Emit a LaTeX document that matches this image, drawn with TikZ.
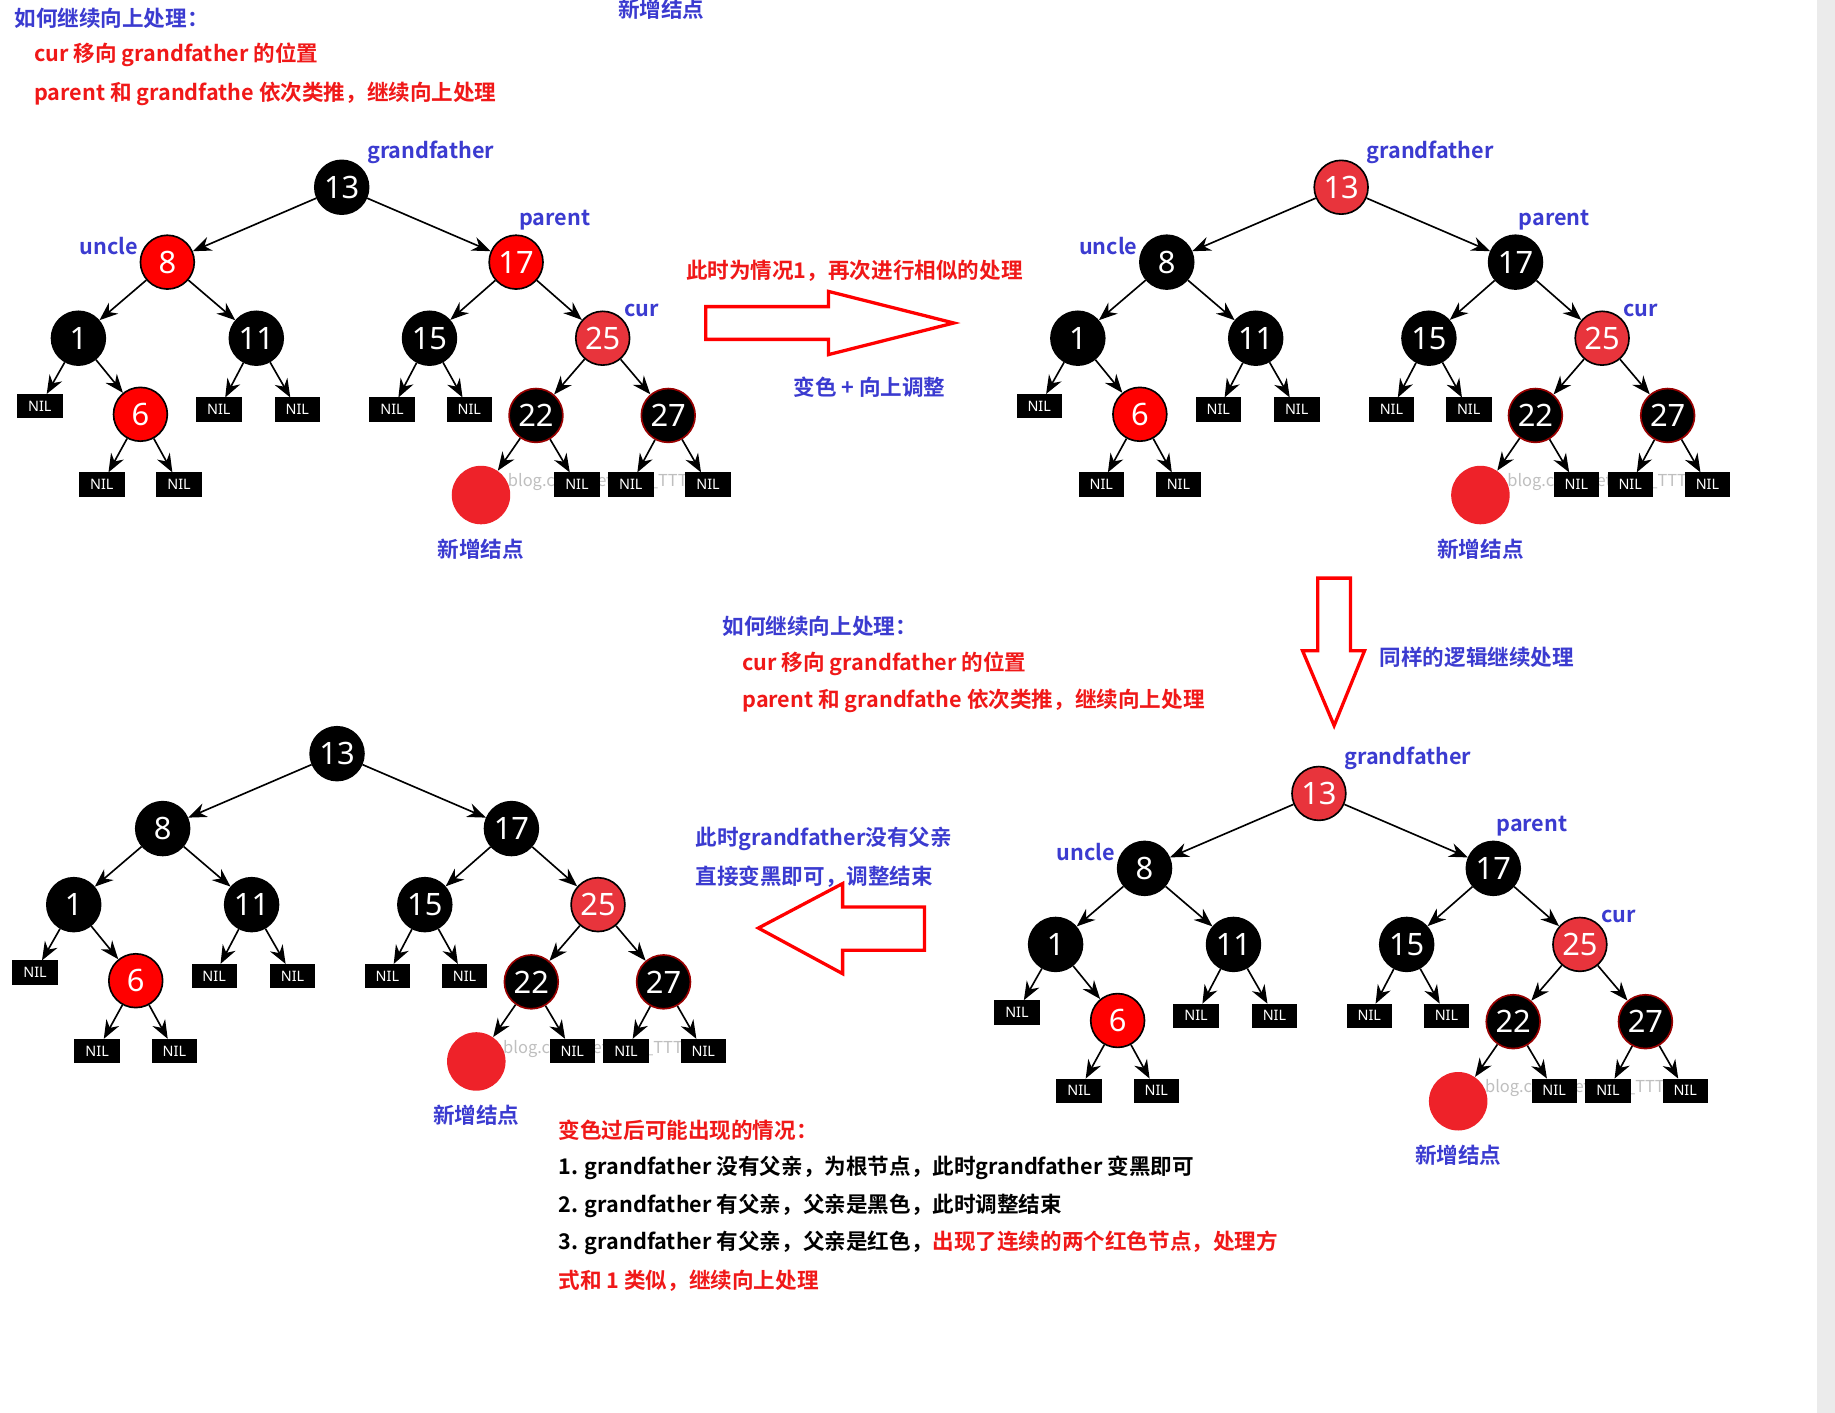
\documentclass[tikz,border=0pt]{standalone}
\usepackage{fontspec}
\setmainfont{Noto Sans CJK SC}[BoldFont={* Bold}]
\newfontfamily\numf{Noto Sans}
\usetikzlibrary{arrows.meta}
\definecolor{rA}{HTML}{FF0000}
\definecolor{rB}{HTML}{E8343C}
\definecolor{rN}{HTML}{EE2229}
\definecolor{bl}{HTML}{3B3BD0}
\definecolor{rt}{HTML}{F01818}
\tikzset{
 bn/.style={circle,draw=black,line width=0.8pt,fill=black,text=white,minimum size=0.92cm,inner sep=0pt,font=\numf\fontsize{15}{15}\selectfont},
 rn/.style={bn,fill=rA},
 rn2/.style={bn,fill=rB},
 nil/.style={draw=black,fill=black,text=white,minimum width=0.76cm,minimum height=0.4cm,inner sep=0pt,font=\numf\fontsize{7}{7}\selectfont},
 newn/.style={circle,fill=rN,minimum size=1cm,inner sep=0pt},
 arr/.style={-{Stealth[length=9pt,width=7pt]},line width=0.8pt},
 lab/.style={text=bl,font=\bfseries\fontsize{10.5}{12}\selectfont,inner sep=0pt},
 rtx/.style={text=rt,font=\bfseries\fontsize{10.5}{12}\selectfont,inner sep=0pt,anchor=west},
 btx/.style={text=bl,font=\bfseries\fontsize{10.5}{12}\selectfont,inner sep=0pt,anchor=west},
 ktx/.style={text=black,font=\bfseries\fontsize{10.5}{12}\selectfont,inner sep=0pt,anchor=west},
 wm/.style={text=black!25,font=\fontsize{8}{8}\selectfont\rmfamily,inner sep=0pt},
 hollow/.style={draw=rA,line width=1.6pt,fill=white},
}
\newcommand\rbt[7]{%
\begin{scope}[shift={(#2,#3)}]
\node[wm] (#1w) at (223,252) {blog.csdn.net/Sun\_TTTT};
\node[#4] (#1a) at (0,0) {13};
\node[#5] (#1b) at (-149,64) {8};
\node[#6] (#1c) at (149,64) {17};
\node[bn] (#1d) at (-225,129) {1};
\node[bn] (#1e) at (-73,129) {11};
\node[bn] (#1f) at (75,129) {15};
\node[#7] (#1g) at (223,129) {25};
\node[nil] (#1h) at (-258,187) {NIL};
\node[rn] (#1i) at (-172,194) {6};
\node[nil] (#1j) at (-105,190) {NIL};
\node[nil] (#1k) at (-38,190) {NIL};
\node[nil] (#1l) at (43,190) {NIL};
\node[nil] (#1m) at (109,190) {NIL};
\node[bn,draw=rA!60!black] (#1n) at (166,195) {22};
\node[bn,draw=rA!60!black] (#1o) at (279,195) {27};
\node[nil] (#1p) at (-205,254) {NIL};
\node[nil] (#1q) at (-139,254) {NIL};
\node[newn] (#1r) at (119,263) {};
\node[nil] (#1s) at (201,254) {NIL};
\node[nil] (#1t) at (247,254) {NIL};
\node[nil] (#1u) at (313,254) {NIL};
\node[lab] (#1v) at (119,309) {新增结点};
\draw[arr] (#1a)--(#1b); \draw[arr] (#1a)--(#1c);
\draw[arr] (#1b)--(#1d); \draw[arr] (#1b)--(#1e);
\draw[arr] (#1c)--(#1f); \draw[arr] (#1c)--(#1g);
\draw[arr] (#1d)--(#1h); \draw[arr] (#1d)--(#1i);
\draw[arr] (#1e)--(#1j); \draw[arr] (#1e)--(#1k);
\draw[arr] (#1f)--(#1l); \draw[arr] (#1f)--(#1m);
\draw[arr] (#1g)--(#1n); \draw[arr] (#1g)--(#1o);
\draw[arr] (#1i)--(#1p); \draw[arr] (#1i)--(#1q);
\draw[arr] (#1n)--(#1r); \draw[arr] (#1n)--(#1s);
\draw[arr] (#1o)--(#1t); \draw[arr] (#1o)--(#1u);
\end{scope}}
\newcommand\rblabels[2]{%
\begin{scope}[shift={(#2)}]
\node[lab] (#1gf) at (76,-30) {grandfather};
\node[lab] (#1un) at (-199,50) {uncle};
\node[lab] (#1pa) at (182,28) {parent};
\node[lab] (#1cu) at (256,105) {cur};
\end{scope}}
\begin{document}
\begin{tikzpicture}[x=0.02cm,y=-0.02cm]
\useasboundingbox (0,0) rectangle (1568,1207);
\fill[white] (0,0) rectangle (1568,1207);
\fill[black!8] (1553,0) rectangle (1568,1207);
% text top-left
\node[btx] (t1) at (12,16) {如何继续向上处理：};
\node[rtx] (t2) at (29,47) {cur 移向 grandfather 的位置};
\node[rtx] (t3) at (29,80) {parent 和 grandfathe 依次类推，继续向上处理};
\node[lab] (t4) at (565,8) {新增结点};
% trees
\rbt{A}{292}{160}{bn}{rn}{rn}{rn2}
\rblabels{A}{292,160}
\rbt{B}{1146}{160}{rn2}{bn}{bn}{rn2}
\rblabels{B}{1146,160}
\rbt{C}{1127}{678}{rn2}{bn}{bn}{rn2}
\rblabels{C}{1127,678}
\rbt{D}{288}{644}{bn}{bn}{bn}{rn2}
% right arrow
\node[text=rt,font=\bfseries\fontsize{10.5}{12}\selectfont] (m1) at (730,231) {此时为情况1，再次进行相似的处理};
\draw[hollow] (603,262)--(708,262)--(708,249)--(815,276)--(708,303)--(708,290)--(603,290)--cycle;
\node[lab] (m2) at (743,331) {变色 + 向上调整};
% down arrow
\draw[hollow] (1126,494)--(1154,494)--(1154,556)--(1166,556)--(1140,620)--(1113,556)--(1126,556)--cycle;
\node[lab] (m3) at (1262,562) {同样的逻辑继续处理};
% middle text
\node[btx] (m4) at (617,535) {如何继续向上处理：};
\node[rtx] (m5) at (634,567) {cur 移向 grandfather 的位置};
\node[rtx] (m6) at (634,599) {parent 和 grandfathe 依次类推，继续向上处理};
\node[btx] (m7) at (594,717) {此时grandfather没有父亲};
\node[btx] (m8) at (594,749) {直接变黑即可，调整结束};
% left arrow
\draw[hollow] (790,775)--(720,775)--(720,755)--(648,793)--(720,832)--(720,812)--(790,812)--cycle;
% bottom text
\node[rtx] (b1) at (477,966) {变色过后可能出现的情况：};
\node[ktx] (b2) at (477,998) {1. grandfather 没有父亲，为根节点，此时grandfather 变黑即可};
\node[ktx] (b3) at (477,1030) {2. grandfather 有父亲，父亲是黑色，此时调整结束};
\node[ktx] (b4) at (477,1062) {3. grandfather 有父亲，父亲是红色，\textcolor{rt}{出现了连续的两个红色节点，处理方}};
\node[rtx] (b5) at (477,1094) {式和 1 类似，继续向上处理};
\end{tikzpicture}
\end{document}
